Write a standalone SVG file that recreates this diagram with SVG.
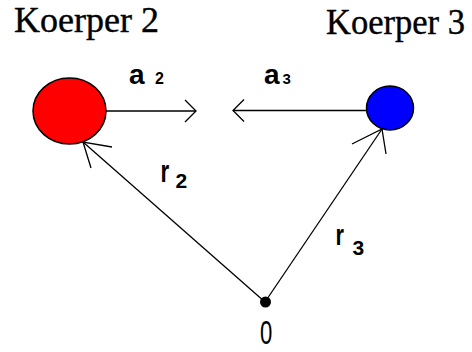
<svg xmlns="http://www.w3.org/2000/svg" width="472" height="352" viewBox="0 0 472 352">
  <style>
    .title { font-family: "Liberation Serif", "Times New Roman", serif; font-size: 36px; fill: #000; stroke: #000; stroke-width: 0.4; }
    .lbl { font-family: "Liberation Sans", Arial, sans-serif; font-weight: bold; fill: #000; }
    .zero { font-family: "Liberation Sans", Arial, sans-serif; font-size: 33px; fill: #000; }
    .conn line, .conn polyline { stroke: #000; fill: none; stroke-width: 1.3; }
    .body { stroke: #000; stroke-width: 1.5; }
  </style>
  <rect width="472" height="352" fill="#fff"/>

  <g id="koerper2">
    <ellipse class="body" cx="69.5" cy="111" rx="36.5" ry="33" fill="#ff0000"/>
    <text class="title" x="14" y="32" textLength="145" lengthAdjust="spacingAndGlyphs">Koerper 2</text>
  </g>

  <g id="koerper3">
    <ellipse class="body" cx="390" cy="108" rx="23.5" ry="22" fill="#0000ff"/>
    <text class="title" x="326" y="33.5" textLength="139" lengthAdjust="spacingAndGlyphs">Koerper 3</text>
  </g>

  <g id="origin">
    <circle cx="265.5" cy="302" r="5.5" fill="#000"/>
    <text class="zero" transform="translate(260,344) scale(0.67,1)">0</text>
  </g>

  <g id="connectors" class="conn">
    <g id="a2">
      <line x1="106" y1="111" x2="196" y2="111"/>
      <polyline points="185,100 196,111 185,122"/>
      <text class="lbl" x="129" y="84" font-size="28">a</text>
      <text class="lbl" x="155" y="84" font-size="16">2</text>
    </g>
    <g id="a3">
      <line x1="233" y1="110.5" x2="367" y2="110.5"/>
      <polyline points="244,99.5 233,110.5 244,121.5"/>
      <text class="lbl" x="264" y="83.5" font-size="28">a</text>
      <text class="lbl" x="282.5" y="83.5" font-size="15">3</text>
    </g>
    <g id="r2">
      <line x1="265" y1="302" x2="83" y2="142"/>
      <polyline points="112,147 83,142 91,168"/>
      <text class="lbl" font-size="32" transform="translate(160.5,182) scale(0.7,1)">r</text>
      <text class="lbl" x="175.5" y="188" font-size="21">2</text>
    </g>
    <g id="r3">
      <line x1="265" y1="302" x2="382" y2="129"/>
      <polyline points="352,144 382,129 386,154"/>
      <text class="lbl" font-size="29" transform="translate(335.5,245) scale(0.75,1)">r</text>
      <text class="lbl" x="352.5" y="255" font-size="21">3</text>
    </g>
  </g>
</svg>
